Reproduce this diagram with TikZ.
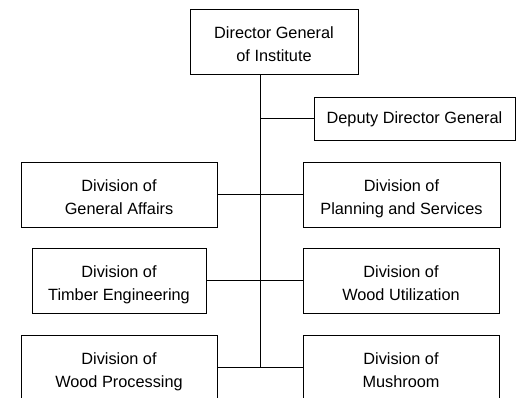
\documentclass[tikz,border=0pt]{standalone}
\usepackage{fontspec}
\setmainfont{Liberation Sans}
\usepackage{tikz}

% two text lines, set a little below the middle of the box
\newcommand{\twolines}[2]{\rule{0pt}{21pt}#1\\#2\rule[-4pt]{0pt}{4pt}}

\tikzset{
  unit/.style={draw, line width=0.9pt, align=center, inner sep=0pt,
    minimum height=65pt, font=\fontsize{16.3}{22.5}\selectfont},
  link/.style={line width=0.9pt}
}

\begin{document}
\begin{tikzpicture}[x=1pt, y=-1pt]
\clip (0,0) rectangle (516,397);
\useasboundingbox (0,0) rectangle (516,397);
%
\node [unit, minimum width=168pt] (dg)  at (274,41.5)  {\twolines{Director General}{of Institute}};
\node [unit, minimum width=201pt, minimum height=43pt] (ddg) at (414.5,118.5) {\strut Deputy Director General};
%
\node [unit, minimum width=196pt] (ga) at (119,194.5) {\twolines{Division of}{General Affairs}};
\node [unit, minimum width=197pt] (ps) at (401.5,194.5) {\twolines{Division of}{Planning and Services}};
\node [unit, minimum width=174pt] (te) at (119,280.5) {\twolines{Division of}{Timber Engineering}};
\node [unit, minimum width=196pt] (wu) at (401,280.5) {\twolines{Division of}{Wood Utilization}};
\node [unit, minimum width=196pt] (wp) at (119,367.5) {\twolines{Division of}{Wood Processing}};
\node [unit, minimum width=196pt] (mu) at (401,367.5) {\twolines{Division of}{Mushroom}};
%
\coordinate (trunk) at (260,367.5);
\draw [link] (dg.south -| trunk) -- (trunk);
\draw [link] (ddg.west) -- (ddg.west -| trunk);
\draw [link] (ga.east) -- (ps.west);
\draw [link] (te.east) -- (wu.west);
\draw [link] (wp.east) -- (mu.west);
%%%%%%%%%%%%%%%%%%%%%%%%%%%%%%%
\end{tikzpicture}
\end{document}
